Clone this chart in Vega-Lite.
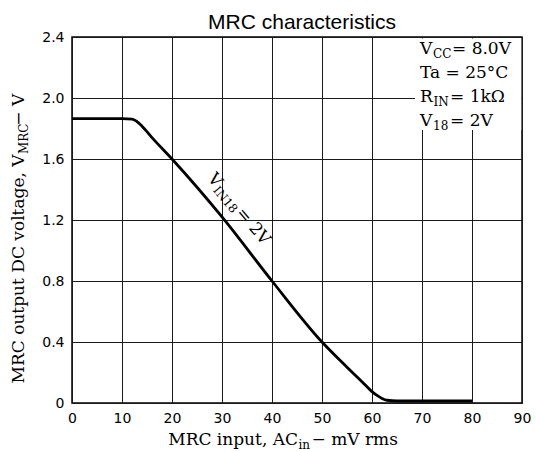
{
  "$schema": "https://vega.github.io/schema/vega-lite/v6.json",
  "width": 450,
  "height": 366,
  "autosize": {"type": "none"},
  "padding": {"left": 72, "top": 37, "right": 14, "bottom": 48},
  "background": "white",
  "config": {
    "view": {"stroke": "black", "strokeWidth": 1.5},
    "axis": {"grid": true, "gridColor": "#1a1a1a", "gridWidth": 1, "gridOpacity": 1, "ticks": false, "domain": false, "labelPadding": 8, "labelFont": "DejaVu Sans", "labelFontSize": 14, "labelColor": "black", "labelFlush": false, "labelOverlap": false},
    "text": {"font": "DejaVu Serif", "color": "black"}
  },
  "datasets": {
    "curve": [
      {"x": 0, "y": 1.865}, {"x": 10, "y": 1.865}, {"x": 12, "y": 1.862}, {"x": 13, "y": 1.845},
      {"x": 14, "y": 1.815}, {"x": 16, "y": 1.74}, {"x": 20, "y": 1.6}, {"x": 30, "y": 1.22},
      {"x": 40, "y": 0.8}, {"x": 50, "y": 0.4}, {"x": 55, "y": 0.235}, {"x": 58, "y": 0.14},
      {"x": 60, "y": 0.075}, {"x": 61, "y": 0.05}, {"x": 62, "y": 0.03}, {"x": 63, "y": 0.018},
      {"x": 65, "y": 0.013}, {"x": 80, "y": 0.013}
    ],
    "box": [{"x": 68.6, "x2": 89.85, "y": 1.79, "y2": 2.39}],
    "notes": [
      {"grp": "title", "role": "main", "x": 46, "y": 2.452, "text": "MRC characteristics"},
      {"grp": "leg", "role": "main", "x": 69.6, "y": 2.289, "text": "V"},
      {"grp": "leg", "role": "sub", "x": 72.2, "y": 2.289, "text": "CC"},
      {"grp": "leg", "role": "main", "x": 76.0, "y": 2.289, "text": "= 8.0V"},
      {"grp": "leg", "role": "main", "x": 69.6, "y": 2.131, "text": "Ta = 25°C"},
      {"grp": "leg", "role": "main", "x": 69.6, "y": 1.974, "text": "R"},
      {"grp": "leg", "role": "sub", "x": 72.3, "y": 1.974, "text": "IN"},
      {"grp": "leg", "role": "main", "x": 75.6, "y": 1.974, "text": "= 1kΩ"},
      {"grp": "leg", "role": "main", "x": 69.6, "y": 1.816, "text": "V"},
      {"grp": "leg", "role": "sub", "x": 72.2, "y": 1.816, "text": "18"},
      {"grp": "leg", "role": "main", "x": 75.6, "y": 1.816, "text": "= 2V"},
      {"grp": "cv", "role": "main", "x": 27.0, "y": 1.47, "text": "V"},
      {"grp": "cv", "role": "sub", "x": 28.7, "y": 1.41, "text": "IN18"},
      {"grp": "cv", "role": "main", "x": 32.7, "y": 1.245, "text": "= 2V"},
      {"grp": "xt", "role": "end", "x": 45.2, "y": -0.275, "text": "MRC input, AC"},
      {"grp": "xt", "role": "sub", "x": 45.3, "y": -0.275, "text": "in"},
      {"grp": "xt", "role": "main", "x": 47.9, "y": -0.275, "text": "− mV rms"},
      {"grp": "yt", "role": "end", "x": -9.6, "y": 1.63, "text": "MRC output DC voltage, V"},
      {"grp": "yt", "role": "sub", "x": -9.6, "y": 1.633, "text": "MRC"},
      {"grp": "yt", "role": "main", "x": -9.6, "y": 1.818, "text": "− V"}
    ]
  },
  "layer": [
    {
      "data": {"name": "box"},
      "mark": {"type": "rect", "fill": "white"},
      "encoding": {
        "x": {"field": "x", "type": "quantitative", "title": null, "scale": {"domain": [0, 90], "nice": false, "zero": false},
              "axis": {"values": [0, 10, 20, 30, 40, 50, 60, 70, 80, 90], "title": null}},
        "x2": {"field": "x2"},
        "y": {"field": "y", "type": "quantitative", "title": null, "scale": {"domain": [0, 2.4], "nice": false, "zero": false},
              "axis": {"values": [0, 0.4, 0.8, 1.2, 1.6, 2.0, 2.4], "title": null, "labelExpr": "datum.value == 0 ? '0' : format(datum.value, '.1f')"}},
        "y2": {"field": "y2"}
      }
    },
    {
      "data": {"name": "curve"},
      "mark": {"type": "line", "color": "black", "strokeWidth": 2.8, "interpolate": "monotone"},
      "encoding": {
        "x": {"field": "x", "type": "quantitative", "title": null},
        "y": {"field": "y", "type": "quantitative", "title": null}
      }
    },
    {
      "data": {"name": "notes"},
      "transform": [{"filter": "datum.grp == 'title'"}],
      "mark": {"type": "text", "align": "center", "baseline": "alphabetic", "fontSize": 21, "font": "Liberation Sans"},
      "encoding": {"x": {"field": "x", "type": "quantitative", "title": null}, "y": {"field": "y", "type": "quantitative", "title": null}, "text": {"field": "text"}}
    },
    {
      "data": {"name": "notes"},
      "transform": [{"filter": "datum.grp == 'leg' && datum.role == 'main'"}],
      "mark": {"type": "text", "align": "left", "baseline": "alphabetic", "fontSize": 17},
      "encoding": {"x": {"field": "x", "type": "quantitative", "title": null}, "y": {"field": "y", "type": "quantitative", "title": null}, "text": {"field": "text"}}
    },
    {
      "data": {"name": "notes"},
      "transform": [{"filter": "datum.grp == 'leg' && datum.role == 'sub'"}],
      "mark": {"type": "text", "align": "left", "baseline": "alphabetic", "fontSize": 12, "dy": 4},
      "encoding": {"x": {"field": "x", "type": "quantitative", "title": null}, "y": {"field": "y", "type": "quantitative", "title": null}, "text": {"field": "text"}}
    },
    {
      "data": {"name": "notes"},
      "transform": [{"filter": "datum.grp == 'cv' && datum.role == 'main'"}],
      "mark": {"type": "text", "align": "left", "baseline": "alphabetic", "fontSize": 17, "angle": 50},
      "encoding": {"x": {"field": "x", "type": "quantitative", "title": null}, "y": {"field": "y", "type": "quantitative", "title": null}, "text": {"field": "text"}}
    },
    {
      "data": {"name": "notes"},
      "transform": [{"filter": "datum.grp == 'cv' && datum.role == 'sub'"}],
      "mark": {"type": "text", "align": "left", "baseline": "alphabetic", "fontSize": 12, "angle": 50, "dy": 4},
      "encoding": {"x": {"field": "x", "type": "quantitative", "title": null}, "y": {"field": "y", "type": "quantitative", "title": null}, "text": {"field": "text"}}
    },
    {
      "data": {"name": "notes"},
      "transform": [{"filter": "datum.grp == 'xt' && datum.role == 'end'"}],
      "mark": {"type": "text", "align": "right", "baseline": "alphabetic", "fontSize": 17},
      "encoding": {"x": {"field": "x", "type": "quantitative", "title": null}, "y": {"field": "y", "type": "quantitative", "title": null}, "text": {"field": "text"}}
    },
    {
      "data": {"name": "notes"},
      "transform": [{"filter": "datum.grp == 'xt' && datum.role == 'main'"}],
      "mark": {"type": "text", "align": "left", "baseline": "alphabetic", "fontSize": 17},
      "encoding": {"x": {"field": "x", "type": "quantitative", "title": null}, "y": {"field": "y", "type": "quantitative", "title": null}, "text": {"field": "text"}}
    },
    {
      "data": {"name": "notes"},
      "transform": [{"filter": "datum.grp == 'xt' && datum.role == 'sub'"}],
      "mark": {"type": "text", "align": "left", "baseline": "alphabetic", "fontSize": 12, "dy": 4},
      "encoding": {"x": {"field": "x", "type": "quantitative", "title": null}, "y": {"field": "y", "type": "quantitative", "title": null}, "text": {"field": "text"}}
    },
    {
      "data": {"name": "notes"},
      "transform": [{"filter": "datum.grp == 'yt' && datum.role == 'end'"}],
      "mark": {"type": "text", "align": "right", "baseline": "alphabetic", "fontSize": 17, "angle": 270},
      "encoding": {"x": {"field": "x", "type": "quantitative", "title": null}, "y": {"field": "y", "type": "quantitative", "title": null}, "text": {"field": "text"}}
    },
    {
      "data": {"name": "notes"},
      "transform": [{"filter": "datum.grp == 'yt' && datum.role == 'main'"}],
      "mark": {"type": "text", "align": "left", "baseline": "alphabetic", "fontSize": 17, "angle": 270},
      "encoding": {"x": {"field": "x", "type": "quantitative", "title": null}, "y": {"field": "y", "type": "quantitative", "title": null}, "text": {"field": "text"}}
    },
    {
      "data": {"name": "notes"},
      "transform": [{"filter": "datum.grp == 'yt' && datum.role == 'sub'"}],
      "mark": {"type": "text", "align": "left", "baseline": "alphabetic", "fontSize": 12, "angle": 270, "dy": 4},
      "encoding": {"x": {"field": "x", "type": "quantitative", "title": null}, "y": {"field": "y", "type": "quantitative", "title": null}, "text": {"field": "text"}}
    }
  ]
}
